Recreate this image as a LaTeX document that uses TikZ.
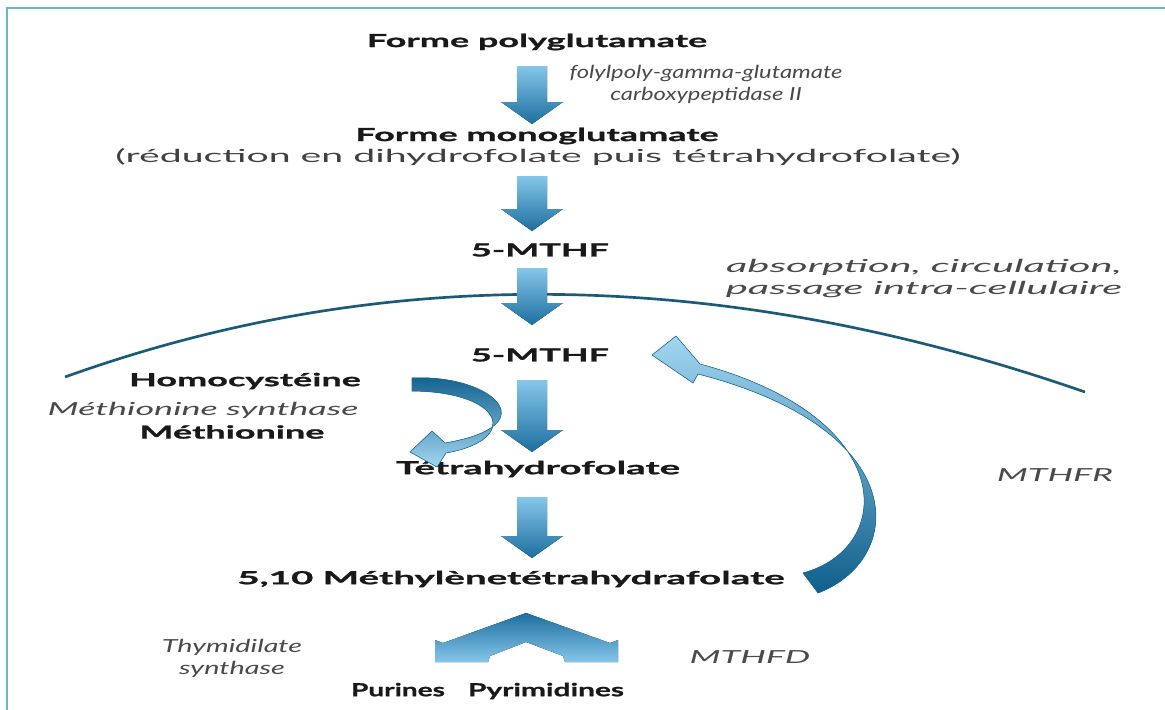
\documentclass[tikz,border=0pt]{standalone}
\usepackage{fontspec}
\setmainfont{Lato}[FakeStretch=2.0, BoldFeatures={FakeBold=1.2}]
\usepackage{graphicx}
\usepackage{tikz}

\definecolor{arrowlight}{HTML}{86C6EA}
\definecolor{arrowdark}{HTML}{1C6F9F}
\definecolor{deepblue}{HTML}{0F5F8C}
\definecolor{paleblue}{HTML}{A2D6F0}
\definecolor{membrane}{HTML}{1B5A78}
\definecolor{framecol}{HTML}{66B8C4}
\definecolor{enzyme}{HTML}{4A4A4A}

\newcommand{\downblock}[3]{%
  \fill[top color=arrowlight, bottom color=arrowdark] (#1-15,#2) -- (#1+15,#2) -- (#1+15,#3-22) -- (#1+31,#3-22) -- (#1,#3) -- (#1-31,#3-22) -- (#1-15,#3-22) -- cycle;}
\newcommand{\widthto}[2]{\scalebox{#1}[1]{\begin{tabular}{@{}c@{}}#2\end{tabular}}}

\begin{document}
\begin{tikzpicture}[x=0.025cm, y=-0.025cm,
    mol/.style={font=\fontsize{12.8}{15}\selectfont\bfseries, text=black!90, inner sep=1pt},
    enz/.style={font=\fontsize{12.8}{16}\selectfont\itshape, text=enzyme, align=center, inner sep=1pt}]
    \useasboundingbox (0,0) rectangle (1165,710);
    \draw[framecol, line width=1.5pt] (7,710) -- (7,8) -- (1165,8);

    \node[mol] (poly) at (537,42) {Forme polyglutamate};
    \node[enz] (fgcp) at (706,85) {\widthto{0.66}{folylpoly-gamma-glutamate\\carboxypeptidase II}};
    \node[mol] (mono) at (537,136) {Forme monoglutamate};
    \node[font=\fontsize{12.8}{15}\selectfont, text=black!75, inner sep=1pt] (reduc) at (538,158) {\widthto{1.09}{(réduction en dihydrofolate puis tétrahydrofolate)}};
    \node[mol] (mthf) at (540,250) {5-MTHF};
    \node[enz] (absorb) at (924,279) {\widthto{1.16}{absorption, circulation,\\passage intra-cellulaire}};
    \node[mol] (mthfin) at (540,355) {5-MTHF};
    \node[mol] (homo) at (245,381) {Homocystéine};
    \node[enz] (msyn) at (203,410) {Méthionine synthase};
    \node[mol] (methio) at (232,432) {Méthionine};
    \node[mol] (thf) at (538,470) {\widthto{1.07}{Tétrahydrofolate}};
    \node[mol] (methylene) at (511,580) {\widthto{1.07}{5,10 Méthylènetétrahydrafolate}};
    \node[enz] (mthfr) at (1055,475) {MTHFR};
    \node[enz] (tsyn) at (232,659) {\widthto{0.8}{Thymidilate\\synthase}};
    \node[enz] (mthfd) at (750,657) {MTHFD};
    \node[mol] (purines) at (398,692) {\widthto{0.78}{Purines}};
    \node[mol] (pyrim) at (546,692) {\widthto{0.83}{Pyrimidines}};

    \draw[membrane, line width=1.9pt] (65,377) .. controls (385,262) and (725,267) .. (1085,392);

    \downblock{532}{66}{124}
    \downblock{532}{176}{231}
    \downblock{532}{268}{325}
    \downblock{532}{380}{452}
    \downblock{532}{497}{558}

    \fill[top color=deepblue, bottom color=paleblue, draw=arrowdark, line width=0.4pt]
        (412,378) .. controls (490,374) and (550,425) .. (445,443) -- (432,431) -- (410,452) -- (437,467) -- (446,453)
        .. controls (520,440) and (505,392) .. (412,391) -- cycle;

    \fill[top color=paleblue, bottom color=deepblue, draw=arrowdark, line width=0.4pt]
        (818,593) .. controls (905,560) and (915,430) .. (698,374) -- (693,383) -- (652,355) -- (676,336) -- (700,364)
        .. controls (900,418) and (895,548) .. (803,573) -- cycle;

    \fill[top color=arrowdark, bottom color=arrowlight]
        (526,613) -- (443,643) -- (435,640) -- (435,662) -- (488,662) -- (490,656) -- (526,642) -- (563,656) -- (565,662) -- (618,662) -- (618,640) -- (610,643) -- cycle;
\end{tikzpicture}
\end{document}
